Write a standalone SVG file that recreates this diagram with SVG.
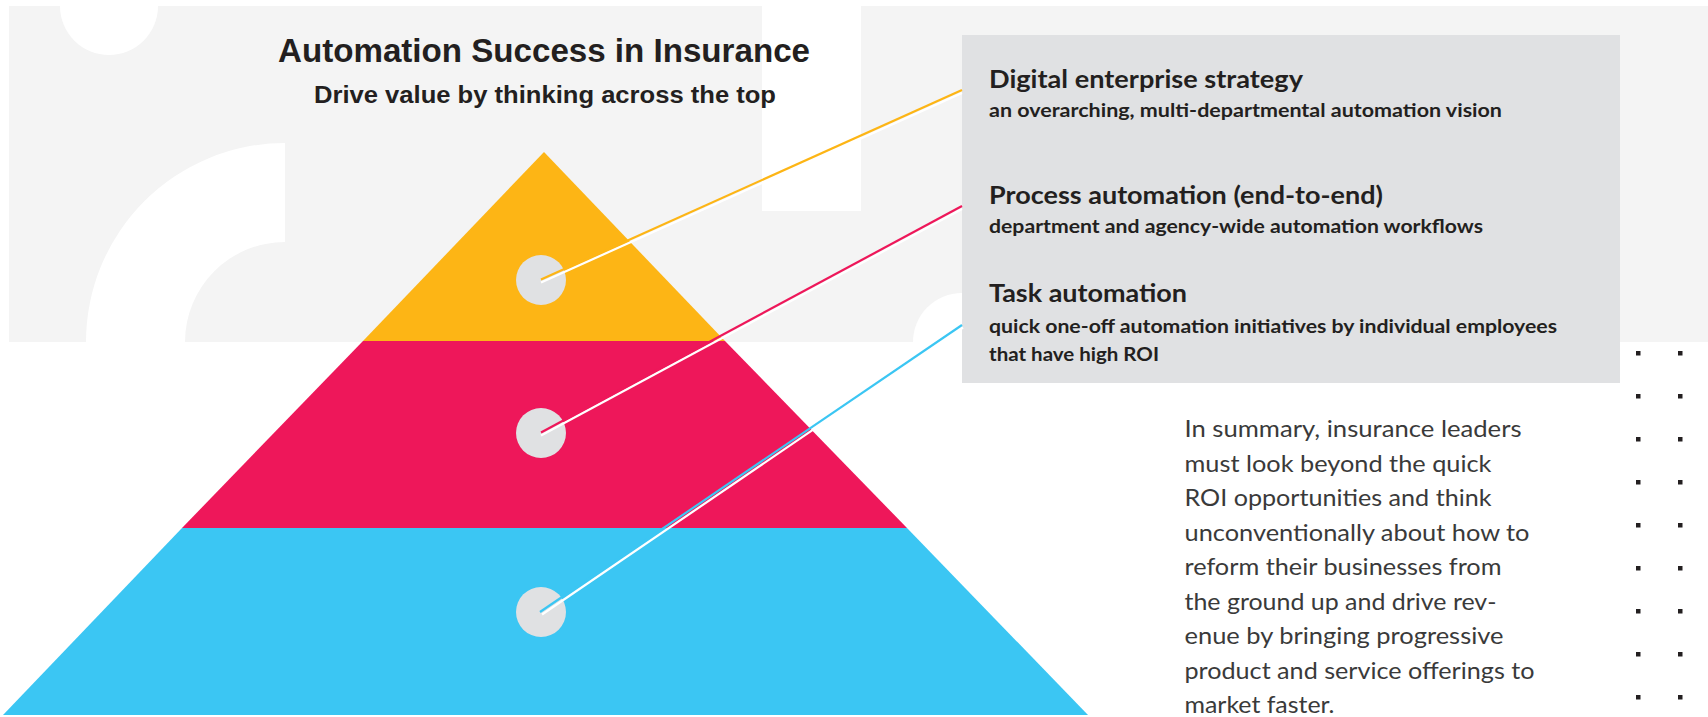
<svg xmlns="http://www.w3.org/2000/svg" width="1708" height="717" viewBox="0 0 1708 717">
  <style>
    .title { font-family: "Liberation Sans", Arial, sans-serif; font-weight: 700; fill: #231f20; }
    .head { font-family: Lato, "Noto Sans", sans-serif; font-weight: 700; font-size: 25px; fill: #231f20; }
    .sub { font-family: Lato, "Noto Sans", sans-serif; font-weight: 700; font-size: 18.5px; fill: #231f20; }
    .body { font-family: Lato, "Noto Sans", sans-serif; font-weight: 400; font-size: 23px; fill: #3a3a3a; }
    .dot { fill: #231f20; }
    .hub { fill: #e0e1e3; }
    .glow { stroke: #ffffff; stroke-width: 2.2; fill: none; }
  </style>
  <defs>
    <rect id="sq" width="4.5" height="4.5" class="dot"/>
  </defs>

  <!-- page background with white cut-out shapes -->
  <g id="background">
    <rect x="0" y="0" width="1708" height="717" fill="#ffffff"/>
    <rect x="9" y="6" width="1699" height="336" fill="#f4f4f4"/>
    <circle cx="109" cy="6" r="49" fill="#ffffff"/>
    <path d="M86 342 A199 199 0 0 1 285 143 L285 242 A100 100 0 0 0 185 342 Z" fill="#ffffff"/>
    <rect x="762" y="0" width="99" height="211" fill="#ffffff"/>
    <circle cx="962" cy="342" r="49" fill="#ffffff"/>
  </g>

  <!-- heading -->
  <g id="title">
    <text class="title" x="278" y="62" font-size="34" textLength="532" lengthAdjust="spacingAndGlyphs">Automation Success in Insurance</text>
    <text class="title" x="314" y="103" font-size="23" textLength="462" lengthAdjust="spacingAndGlyphs">Drive value by thinking across the top</text>
  </g>

  <!-- pyramid tiers -->
  <g id="tier-top">
    <polygon points="544,152 725,341 363,341" fill="#fdb515"/>
    <circle class="hub" cx="541" cy="280" r="25"/>
  </g>
  <g id="tier-middle">
    <polygon points="363,341 725,341 907,528 182,528" fill="#ee175a"/>
    <circle class="hub" cx="541" cy="433" r="25"/>
  </g>
  <g id="tier-bottom">
    <polygon points="182,528 907,528 1088,715 3,715" fill="#3bc6f3"/>
    <circle class="hub" cx="541" cy="612" r="25"/>
  </g>

  <!-- legend panel -->
  <g id="legend">
    <rect x="962" y="35" width="658" height="348" fill="#e0e1e3"/>
    <g id="legend-strategy">
      <text class="head" x="989" y="88" textLength="314" lengthAdjust="spacingAndGlyphs">Digital enterprise strategy</text>
      <text class="sub" x="989" y="117" textLength="513" lengthAdjust="spacingAndGlyphs">an overarching, multi-departmental automation vision</text>
    </g>
    <g id="legend-process">
      <text class="head" x="989" y="204" textLength="394" lengthAdjust="spacingAndGlyphs">Process automation (end-to-end)</text>
      <text class="sub" x="989" y="233" textLength="494" lengthAdjust="spacingAndGlyphs">department and agency-wide automation workflows</text>
    </g>
    <g id="legend-task">
      <text class="head" x="989" y="302" textLength="198" lengthAdjust="spacingAndGlyphs">Task automation</text>
      <text class="sub" x="989" y="333" textLength="568" lengthAdjust="spacingAndGlyphs">quick one-off automation initiatives by individual employees</text>
      <text class="sub" x="989" y="361" textLength="170" lengthAdjust="spacingAndGlyphs">that have high ROI</text>
    </g>
  </g>

  <!-- leader lines from tier hubs to the legend -->
  <g id="connectors">
    <line class="glow" x1="541" y1="282.5" x2="962" y2="93"/>
    <line x1="541" y1="279.5" x2="962" y2="90" stroke="#fdb515" stroke-width="2.2"/>
    <line class="glow" x1="541" y1="435.5" x2="962" y2="209"/>
    <line x1="541" y1="432.5" x2="962" y2="206" stroke="#ee175a" stroke-width="2.2"/>
    <line class="glow" x1="542" y1="614.5" x2="963" y2="327.5"/>
    <line x1="540" y1="612" x2="962" y2="325" stroke="#3bc6f3" stroke-width="2.2"/>
  </g>

  <!-- closing paragraph -->
  <g id="summary">
    <text class="body" x="1184.5" y="437" textLength="337" lengthAdjust="spacingAndGlyphs">In summary, insurance leaders</text>
    <text class="body" x="1184.5" y="472" textLength="307" lengthAdjust="spacingAndGlyphs">must look beyond the quick</text>
    <text class="body" x="1184.5" y="506" textLength="307" lengthAdjust="spacingAndGlyphs">ROI opportunities and think</text>
    <text class="body" x="1184.5" y="541" textLength="345" lengthAdjust="spacingAndGlyphs">unconventionally about how to</text>
    <text class="body" x="1184.5" y="575" textLength="317" lengthAdjust="spacingAndGlyphs">reform their businesses from</text>
    <text class="body" x="1184.5" y="610" textLength="312" lengthAdjust="spacingAndGlyphs">the ground up and drive rev-</text>
    <text class="body" x="1184.5" y="644" textLength="319" lengthAdjust="spacingAndGlyphs">enue by bringing progressive</text>
    <text class="body" x="1184.5" y="679" textLength="350" lengthAdjust="spacingAndGlyphs">product and service offerings to</text>
    <text class="body" x="1184.5" y="713" textLength="150" lengthAdjust="spacingAndGlyphs">market faster.</text>
  </g>

  <!-- decorative dot grid -->
  <g id="dots">
    <use href="#sq" x="1636" y="351"/><use href="#sq" x="1678" y="351"/>
    <use href="#sq" x="1636" y="394"/><use href="#sq" x="1678" y="394"/>
    <use href="#sq" x="1636" y="437"/><use href="#sq" x="1678" y="437"/>
    <use href="#sq" x="1636" y="480"/><use href="#sq" x="1678" y="480"/>
    <use href="#sq" x="1636" y="523"/><use href="#sq" x="1678" y="523"/>
    <use href="#sq" x="1636" y="566"/><use href="#sq" x="1678" y="566"/>
    <use href="#sq" x="1636" y="609"/><use href="#sq" x="1678" y="609"/>
    <use href="#sq" x="1636" y="652"/><use href="#sq" x="1678" y="652"/>
    <use href="#sq" x="1636" y="695"/><use href="#sq" x="1678" y="695"/>
  </g>
</svg>
